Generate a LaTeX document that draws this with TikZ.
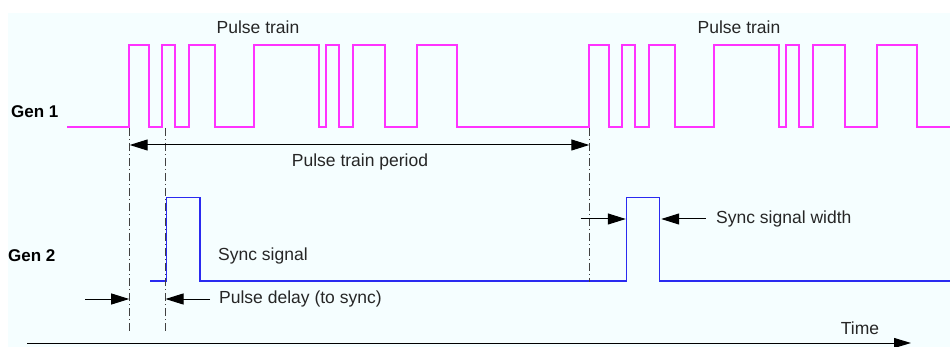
\documentclass[tikz,border=0pt]{standalone}
\usepackage{fontspec}
\setmainfont{Liberation Sans}
\usetikzlibrary{arrows.meta}
\definecolor{bgc}{HTML}{F5FEFF}
\definecolor{pinkc}{HTML}{FF33FF}
\definecolor{bluec}{HTML}{2A2AF0}
\definecolor{txtc}{HTML}{262626}
\begin{document}
\begin{tikzpicture}[x=1pt,y=-1pt,
  lbl/.style={inner sep=0pt,text=txtc,font=\fontsize{17.5}{20}\selectfont},
  gen/.style={inner sep=0pt,text=black,font=\fontsize{17}{20}\selectfont\bfseries},
  dashdot/.style={draw=black!75,line width=1pt,dash pattern=on 8pt off 3pt on 1pt off 3pt},
  dim/.style={draw=black,line width=1pt,-{Triangle[length=18pt,width=11pt]}},
  dimboth/.style={draw=black,line width=1pt,{Triangle[length=18pt,width=11pt]}-{Triangle[length=18pt,width=11pt]}},
  sig1/.style={draw=pinkc,line width=1.8pt},
  sig2/.style={draw=bluec,line width=1.8pt}]
\useasboundingbox (0,0) rectangle (950,347);
\fill[bgc] (8,13) rectangle (950,347);
% Gen 1 pulse train
\draw[sig1] (67,127) \foreach \r/\f in {129/149,162/175,189/215,254/319,326/339,353/385,417/457,589/609,622/635,649/675,714/779,786/799,813/845,877/917} { -- (\r,127) -- (\r,45) -- (\f,45) -- (\f,127) } -- (950,127);
% Gen 2 sync signal
\draw[sig2] (150,281) -- (166.5,281) -- (166.5,197.5) -- (200,197.5) -- (200,281) -- (626.5,281) -- (626.5,197.5) -- (659.5,197.5) -- (659.5,281) -- (950,281);
% dash-dot guides
\coordinate (d1t) at (129.7,128);
\coordinate (d1b) at (129.7,332);
\coordinate (d2t) at (165,128);
\coordinate (d2b) at (165,332);
\coordinate (d3t) at (589.3,128);
\coordinate (d3b) at (589.3,282);
\draw[dashdot] (d1t) -- (d1b);
\draw[dashdot] (d2t) -- (d2b);
\draw[dashdot] (d3t) -- (d3b);
% period arrow
\coordinate (pa) at (129.7,145);
\coordinate (pb) at (589.3,145);
\draw[dimboth] (pa) -- (pb);
% pulse delay arrows
\coordinate (dl1) at (85,299);
\coordinate (dl1e) at (129.2,299);
\coordinate (dl2) at (210,299);
\coordinate (dl2e) at (165.5,299);
\draw[dim] (dl1) -- (dl1e);
\draw[dim] (dl2) -- (dl2e);
% sync width arrows
\coordinate (w1) at (580.7,219);
\coordinate (w1e) at (625.8,219);
\coordinate (w2) at (705.7,219);
\coordinate (w2e) at (661.2,219);
\draw[dim] (w1) -- (w1e);
\draw[dim] (w2) -- (w2e);
% time axis
\coordinate (t0) at (27,343);
\coordinate (t1) at (911,343);
\draw[draw=black,line width=1pt,-{Triangle[length=17pt,width=10pt]}] (t0) -- (t1);
% labels
\node[lbl] (pt1) at (258,27) {Pulse train};
\node[lbl] (pt2) at (739,27) {Pulse train};
\node[gen,anchor=west] (g1) at (11,112) {Gen 1};
\node[gen,anchor=west] (g2) at (8,256) {Gen 2};
\node[lbl] (ptp) at (360,162) {Pulse train period};
\node[lbl,anchor=west] (ss) at (218,256) {Sync signal};
\node[lbl,anchor=west] (pd) at (219,299) {Pulse delay (to sync)};
\node[lbl,anchor=west] (sw) at (716,219) {Sync signal width};
\node[lbl,anchor=west] (tm) at (840.7,328) {Time};
\end{tikzpicture}
\end{document}
